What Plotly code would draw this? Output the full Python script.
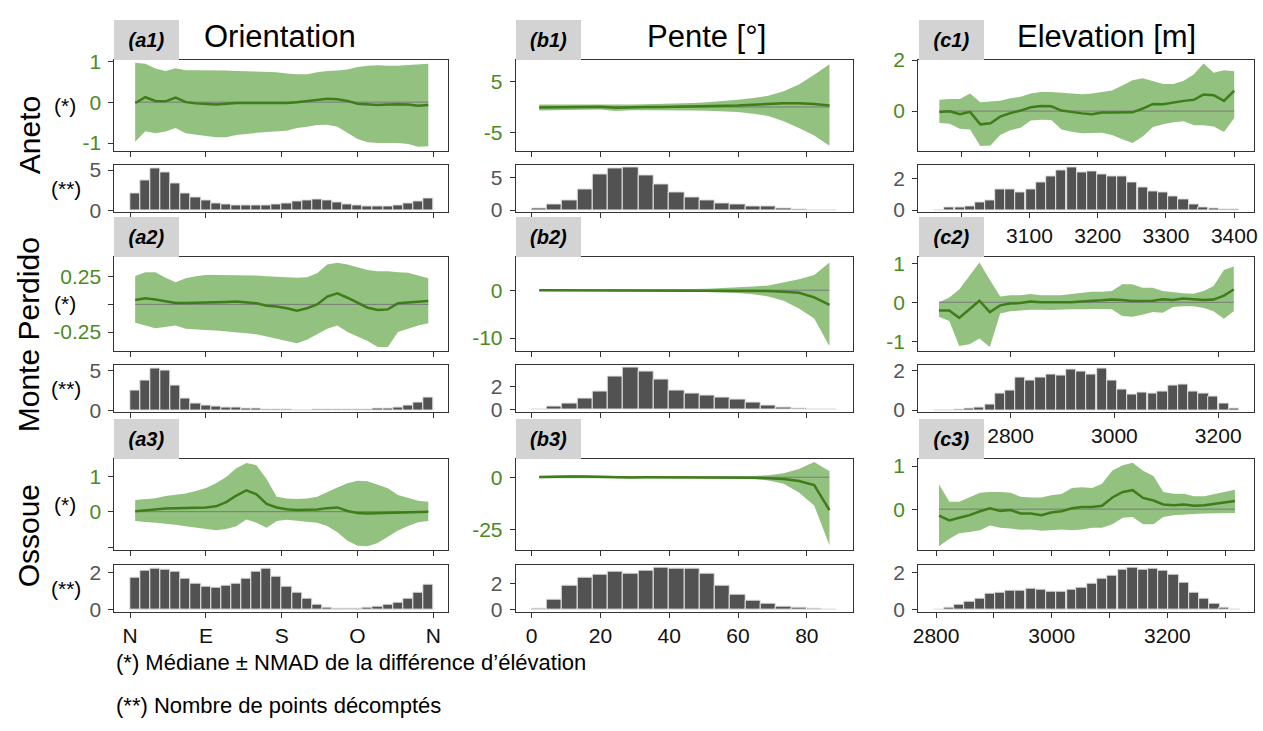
import plotly.graph_objects as go

W, H = 1263, 731

# ------------------------------------------------------------------ data
# Orientation (degrees, bin centres)
ORI_X = [6, 18, 30, 42, 54, 66, 78, 90, 102, 114, 126, 138, 150, 162, 174,
         186, 198, 210, 222, 234, 246, 258, 270, 282, 294, 306, 318, 330, 342, 354]
ORI_BIN = 12
ORI_TICKS = [0, 90, 180, 270, 360]
ORI_TICKTEXT = ["N", "E", "S", "O", "N"]

A1_MED = [-0.02, 0.12, 0.03, 0.02, 0.11, 0.0, -0.03, -0.05, -0.06, -0.04, -0.02, -0.02, -0.02, -0.02, -0.02,
          -0.02, 0.0, 0.03, 0.06, 0.08, 0.07, 0.03, -0.04, -0.06, -0.07, -0.06, -0.05, -0.06, -0.09, -0.07]
A1_HI = [0.96, 0.94, 0.82, 0.76, 0.83, 0.78, 0.78, 0.78, 0.77, 0.77, 0.76, 0.75, 0.74, 0.74, 0.73,
         0.70, 0.68, 0.68, 0.73, 0.76, 0.77, 0.80, 0.86, 0.89, 0.90, 0.89, 0.89, 0.91, 0.93, 0.94]
A1_LO = [-0.97, -0.71, -0.76, -0.72, -0.63, -0.76, -0.80, -0.83, -0.86, -0.86, -0.80, -0.78, -0.75, -0.73, -0.71,
         -0.70, -0.63, -0.60, -0.56, -0.55, -0.60, -0.75, -0.90, -0.98, -1.00, -1.00, -1.00, -1.02, -1.09, -1.08]
A1_CNT = [2.15, 3.66, 5.24, 4.67, 3.33, 2.15, 1.59, 1.18, 0.90, 0.70, 0.57, 0.57, 0.57, 0.65, 0.70,
          0.85, 1.06, 1.30, 1.42, 1.22, 0.93, 0.73, 0.61, 0.53, 0.53, 0.53, 0.65, 0.81, 1.10, 1.50]

A2_MED = [0.04, 0.056, 0.045, 0.03, 0.012, 0.012, 0.013, 0.016, 0.018, 0.022, 0.026, 0.02, 0.01, -0.012, -0.02,
          -0.035, -0.056, -0.035, 0.0, 0.07, 0.10, 0.06, 0.015, -0.03, -0.05, -0.045, 0.01, 0.015, 0.025, 0.03]
A2_HI = [0.256, 0.29, 0.29, 0.24, 0.20, 0.235, 0.255, 0.265, 0.265, 0.265, 0.26, 0.26, 0.26, 0.255, 0.25,
         0.245, 0.24, 0.245, 0.28, 0.36, 0.375, 0.36, 0.335, 0.31, 0.30, 0.30, 0.29, 0.285, 0.26, 0.235]
A2_LO = [-0.165, -0.19, -0.215, -0.20, -0.19, -0.22, -0.225, -0.23, -0.235, -0.24, -0.25, -0.26, -0.27, -0.29, -0.31,
         -0.33, -0.35, -0.32, -0.27, -0.22, -0.19, -0.25, -0.29, -0.33, -0.385, -0.385, -0.25, -0.22, -0.19, -0.17]
A2_CNT = [2.48, 3.70, 5.25, 4.96, 3.10, 1.45, 0.87, 0.54, 0.41, 0.33, 0.29, 0.20, 0.20, 0.12, 0.08,
          0.08, 0.0, 0.0, 0.04, 0.04, 0.06, 0.08, 0.10, 0.12, 0.16, 0.20, 0.33, 0.62, 0.95, 1.53]

A3_MED = [0.01, 0.04, 0.07, 0.09, 0.10, 0.10, 0.11, 0.12, 0.15, 0.27, 0.45, 0.60, 0.49, 0.22, 0.12,
          0.07, 0.05, 0.05, 0.06, 0.10, 0.12, 0.02, -0.04, -0.05, -0.04, -0.02, -0.01, -0.01, 0.0, 0.0]
A3_HI = [0.33, 0.36, 0.38, 0.44, 0.48, 0.51, 0.58, 0.67, 0.80, 0.98, 1.22, 1.37, 1.31, 0.92, 0.42,
         0.37, 0.36, 0.37, 0.42, 0.56, 0.68, 0.80, 0.87, 0.86, 0.76, 0.66, 0.47, 0.38, 0.31, 0.28]
A3_LO = [-0.26, -0.29, -0.31, -0.33, -0.37, -0.41, -0.45, -0.49, -0.52, -0.49, -0.41, -0.22, -0.31, -0.45, -0.26,
         -0.23, -0.25, -0.28, -0.31, -0.40, -0.58, -0.82, -0.96, -0.97, -0.88, -0.70, -0.53, -0.40, -0.30, -0.26]
A3_CNT = [1.72, 2.07, 2.22, 2.17, 2.02, 1.67, 1.38, 1.22, 1.20, 1.28, 1.42, 1.68, 2.05, 2.22, 1.78,
          1.22, 0.90, 0.60, 0.31, 0.12, 0.05, 0.05, 0.08, 0.10, 0.17, 0.27, 0.40, 0.62, 0.92, 1.34]

# Slope (degrees, bin centres)
SLOPE_X = [2.22, 6.66, 11.1, 15.54, 19.98, 24.42, 28.86, 33.3, 37.74, 42.18,
           46.62, 51.06, 55.5, 59.94, 64.38, 68.82, 73.26, 77.7, 82.14, 86.58]
SLOPE_BIN = 4.44
SLOPE_TICKS = [0, 20, 40, 60, 80]

B1_MED = [-0.1, -0.05, 0.0, 0.05, 0.05, -0.15, -0.05, 0.0, 0.0, 0.05,
          0.05, 0.1, 0.2, 0.3, 0.45, 0.6, 0.75, 0.75, 0.6, 0.3]
B1_HI = [0.5, 0.5, 0.5, 0.5, 0.5, 0.4, 0.5, 0.55, 0.6, 0.7,
         0.8, 0.95, 1.15, 1.4, 1.75, 2.2, 3.1, 4.4, 6.3, 8.4]
B1_LO = [-0.7, -0.65, -0.6, -0.55, -0.5, -0.8, -0.65, -0.65, -0.65, -0.65,
         -0.7, -0.75, -0.85, -1.0, -1.3, -1.75, -2.8, -4.1, -5.6, -7.6]
B1_CNT = [0.3, 0.8, 1.43, 3.16, 5.5, 6.43, 6.53, 5.3, 3.98, 2.65,
          1.9, 1.43, 1.07, 0.87, 0.6, 0.5, 0.25, 0.05, 0.0, 0.0]

B2_MED = [0.0, 0.0, 0.0, 0.0, 0.0, 0.0, 0.0, 0.0, 0.0, 0.0,
          0.0, -0.02, -0.05, -0.08, -0.1, -0.15, -0.3, -0.55, -1.5, -3.05]
B2_HI = [0.1, 0.1, 0.1, 0.1, 0.1, 0.12, 0.12, 0.14, 0.16, 0.2,
         0.25, 0.3, 0.4, 0.55, 0.75, 1.0, 1.6, 2.3, 3.2, 5.8]
B2_LO = [-0.1, -0.1, -0.1, -0.1, -0.1, -0.12, -0.12, -0.14, -0.16, -0.2,
         -0.25, -0.35, -0.45, -0.6, -0.85, -1.3, -2.2, -3.8, -5.9, -11.7]
B2_CNT = [0.03, 0.29, 0.57, 0.97, 1.63, 2.94, 3.66, 3.31, 2.6, 1.71,
          1.4, 1.26, 1.11, 0.91, 0.66, 0.37, 0.23, 0.11, 0.0, 0.0]

B3_MED = [0.1, 0.3, 0.35, 0.3, 0.1, -0.05, -0.1, -0.05, -0.05, -0.05,
          -0.05, -0.05, -0.05, -0.05, -0.2, -0.45, -0.8, -1.8, -3.7, -15.7]
B3_HI = [0.6, 0.8, 0.9, 0.8, 0.6, 0.4, 0.3, 0.3, 0.3, 0.3,
         0.3, 0.3, 0.3, 0.35, 0.6, 0.9, 1.9, 3.9, 7.3, 2.8]
B3_LO = [-0.5, -0.3, -0.3, -0.4, -0.5, -0.5, -0.6, -0.5, -0.5, -0.5,
         -0.5, -0.5, -0.5, -0.55, -0.9, -1.5, -3.1, -7.3, -13.5, -32.4]
B3_CNT = [0.12, 0.8, 1.88, 2.45, 2.68, 2.9, 2.8, 3.0, 3.25, 3.12,
          3.17, 2.75, 1.88, 1.15, 0.72, 0.5, 0.27, 0.15, 0.07, 0.02]

# Elevation (m, bin centres)
C1_X = [2968, 2983, 2998, 3013, 3028, 3043, 3057, 3072, 3087, 3102, 3117, 3132, 3147, 3162, 3177,
        3192, 3206, 3221, 3236, 3251, 3266, 3281, 3296, 3311, 3326, 3341, 3355, 3370, 3385, 3400]
C1_BIN = 14.9
C1_TICKS = [3000, 3100, 3200, 3300, 3400]
C1_TICKTEXT = ["", "3100", "3200", "3300", "3400"]   # 3000 is hidden behind the (c2) tag
C1_MED = [-0.04, -0.01, -0.12, -0.03, -0.52, -0.48, -0.22, -0.08, 0.02, 0.15, 0.2, 0.19, 0.02, -0.05, -0.09,
          -0.12, -0.06, -0.06, -0.06, -0.05, 0.1, 0.28, 0.27, 0.34, 0.4, 0.44, 0.65, 0.62, 0.4, 0.8]
C1_HI = [0.44, 0.47, 0.47, 0.69, 0.35, 0.37, 0.4, 0.5, 0.56, 0.69, 0.75, 0.75, 0.71, 0.69, 0.66,
         0.69, 0.75, 0.81, 1.0, 1.21, 1.29, 1.19, 1.06, 1.06, 1.19, 1.44, 1.87, 1.5, 1.6, 1.56]
C1_LO = [-0.47, -0.5, -0.69, -0.72, -1.37, -1.35, -0.94, -0.75, -0.65, -0.37, -0.34, -0.35, -0.72, -0.81, -0.87,
         -0.87, -0.85, -0.94, -1.1, -1.25, -1.0, -0.62, -0.52, -0.44, -0.4, -0.56, -0.56, -0.6, -0.82, -0.27]
C1_CNT = [0.0, 0.17, 0.17, 0.21, 0.5, 0.6, 1.3, 1.3, 1.1, 1.3, 1.75, 2.15, 2.5, 2.7, 2.4,
          2.45, 2.25, 2.1, 2.15, 1.75, 1.4, 1.2, 1.1, 0.85, 0.65, 0.35, 0.15, 0.08, 0.05, 0.02]

C2_X = [2662, 2682, 2701, 2721, 2740, 2760, 2780, 2799, 2819, 2838, 2858, 2878, 2897, 2917, 2936,
        2956, 2976, 2995, 3015, 3034, 3054, 3074, 3093, 3113, 3132, 3152, 3172, 3191, 3211, 3230]
C2_BIN = 19.6
C2_TICKS = [2800, 3000, 3200]
C2_MED = [-0.21, -0.21, -0.4, -0.18, 0.04, -0.25, -0.08, -0.03, -0.02, 0.02, 0.0, 0.0, 0.0, 0.0, 0.02,
          0.03, 0.05, 0.07, 0.06, 0.03, 0.03, 0.04, 0.08, 0.06, 0.1, 0.08, 0.06, 0.07, 0.17, 0.33]
C2_HI = [0.0, 0.12, 0.33, 0.67, 1.02, 0.58, 0.15, 0.18, 0.18, 0.21, 0.18, 0.18, 0.18, 0.21, 0.23,
         0.27, 0.27, 0.29, 0.46, 0.46, 0.37, 0.37, 0.29, 0.25, 0.23, 0.22, 0.29, 0.42, 0.83, 0.92]
C2_LO = [-0.37, -0.48, -1.12, -1.08, -0.93, -1.15, -0.29, -0.23, -0.21, -0.19, -0.19, -0.2, -0.19, -0.18, -0.18,
         -0.18, -0.17, -0.18, -0.35, -0.37, -0.32, -0.25, -0.27, -0.12, -0.1, -0.1, -0.15, -0.23, -0.42, -0.23]
C2_CNT = [0.0, 0.0, 0.05, 0.1, 0.15, 0.3, 0.85, 1.0, 1.65, 1.5, 1.65, 1.8, 1.75, 2.05, 1.95,
          1.8, 2.1, 1.5, 1.05, 0.8, 0.9, 0.85, 0.95, 1.25, 1.3, 0.95, 0.85, 0.7, 0.35, 0.1]

C3_X = [2805, 2823, 2840, 2858, 2876, 2893, 2911, 2929, 2946, 2964, 2982, 2999, 3017, 3035, 3052,
        3070, 3087, 3105, 3123, 3140, 3158, 3176, 3193, 3211, 3229, 3246, 3264, 3282, 3299, 3317]
C3_BIN = 17.65
C3_TICKS = [2800, 2900, 3000, 3100, 3200, 3300]
C3_TICKTEXT = ["2800", "", "3000", "", "3200", ""]
C3_MED = [-0.15, -0.26, -0.2, -0.14, -0.05, 0.02, -0.04, -0.02, -0.1, -0.1, -0.14, -0.08, -0.05, 0.02, 0.05,
          0.05, 0.08, 0.27, 0.4, 0.44, 0.26, 0.2, 0.11, 0.09, 0.11, 0.08, 0.09, 0.12, 0.15, 0.19]
C3_HI = [0.57, 0.17, 0.17, 0.27, 0.38, 0.4, 0.4, 0.38, 0.29, 0.27, 0.27, 0.32, 0.35, 0.49, 0.51,
         0.49, 0.59, 0.9, 1.02, 1.08, 0.89, 0.77, 0.4, 0.36, 0.36, 0.3, 0.3, 0.35, 0.4, 0.45]
C3_LO = [-0.86, -0.69, -0.56, -0.53, -0.49, -0.38, -0.43, -0.45, -0.48, -0.47, -0.5, -0.49, -0.47, -0.49, -0.47,
         -0.43, -0.43, -0.35, -0.2, -0.18, -0.35, -0.35, -0.18, -0.14, -0.13, -0.11, -0.1, -0.09, -0.09, -0.09]
C3_CNT = [0.0, 0.1, 0.3, 0.45, 0.6, 0.85, 0.95, 1.05, 1.05, 1.15, 1.1, 1.0, 1.0, 1.1, 1.2,
          1.4, 1.7, 1.85, 2.2, 2.3, 2.2, 2.25, 2.15, 1.9, 1.45, 0.95, 0.6, 0.35, 0.1, 0.0]

COL_TITLES = ["Orientation", "Pente [°]", "Elevation [m]"]
ROW_TITLES = ["Aneto", "Monte Perdido", "Ossoue"]
PANEL_TAGS = [["(a1)", "(b1)", "(c1)"], ["(a2)", "(b2)", "(c2)"], ["(a3)", "(b3)", "(c3)"]]
FOOT_1 = "(*) Médiane ± NMAD de la différence d’élévation"
FOOT_2 = "(**) Nombre de points décomptés"

# ------------------------------------------------------------------ style / geometry
FONT = "Liberation Sans, Arial, Helvetica, sans-serif"
BAND = "#93c17f"
MEDC = "#3f7c1a"
GREEN_TXT = "#4b8a1f"
BAR = "#525252"
AX = "#333333"

COLS_PX = [(110, 446), (514, 853), (919, 1257)]
ROWS_PX = [((50, 144), (159, 207)), ((253, 350), (364, 413)), ((461, 555), (570, 619))]

PANELS = [
    [dict(x=ORI_X, med=A1_MED, hi=A1_HI, lo=A1_LO, cnt=A1_CNT, bw=ORI_BIN,
          yr=[-1.19, 1.04], yt=[-1, 0, 1], ytt=["-1", "0", "1"], hyr=[-0.2, 5.57], hyt=[0, 5],
          xr=[-18.8, 377.6], xt=ORI_TICKS, xtt=None),
     dict(x=SLOPE_X, med=B1_MED, hi=B1_HI, lo=B1_LO, cnt=B1_CNT, bw=SLOPE_BIN,
          yr=[-8.6, 9.3], yt=[-5, 5], ytt=["-5", "5"], hyr=[-0.3, 6.84], hyt=[0, 5],
          xr=[-4.6, 93.3], xt=SLOPE_TICKS, xtt=None),
     dict(x=C1_X, med=C1_MED, hi=C1_HI, lo=C1_LO, cnt=C1_CNT, bw=C1_BIN,
          yr=[-1.56, 2.02], yt=[0, 2], ytt=["0", "2"], hyr=[-0.13, 2.82], hyt=[0, 2],
          xr=[2937, 3429], xt=C1_TICKS, xtt=C1_TICKTEXT)],
    [dict(x=ORI_X, med=A2_MED, hi=A2_HI, lo=A2_LO, cnt=A2_CNT, bw=ORI_BIN,
          yr=[-0.42, 0.43], yt=[-0.25, 0, 0.25], ytt=["-0.25", "", "0.25"], hyr=[-0.25, 5.74], hyt=[0, 5],
          xr=[-18.8, 377.6], xt=ORI_TICKS, xtt=None),
     dict(x=SLOPE_X, med=B2_MED, hi=B2_HI, lo=B2_LO, cnt=B2_CNT, bw=SLOPE_BIN,
          yr=[-12.7, 7.0], yt=[-10, 0], ytt=["-10", "0"], hyr=[-0.2, 3.94], hyt=[0, 2],
          xr=[-4.6, 93.3], xt=SLOPE_TICKS, xtt=None),
     dict(x=C2_X, med=C2_MED, hi=C2_HI, lo=C2_LO, cnt=C2_CNT, bw=C2_BIN,
          yr=[-1.25, 1.17], yt=[-1, 0, 1], ytt=["-1", "0", "1"], hyr=[-0.1, 2.28], hyt=[0, 2],
          xr=[2622, 3269], xt=C2_TICKS, xtt=[str(v) for v in C2_TICKS])],
    [dict(x=ORI_X, med=A3_MED, hi=A3_HI, lo=A3_LO, cnt=A3_CNT, bw=ORI_BIN,
          yr=[-1.08, 1.49], yt=[-1, 0, 1], ytt=["", "0", "1"], hyr=[-0.12, 2.41], hyt=[0, 2],
          xr=[-18.8, 377.6], xt=ORI_TICKS, xtt=ORI_TICKTEXT),
     dict(x=SLOPE_X, med=B3_MED, hi=B3_HI, lo=B3_LO, cnt=B3_CNT, bw=SLOPE_BIN,
          yr=[-34.7, 8.8], yt=[-25, 0], ytt=["-25", "0"], hyr=[-0.18, 3.45], hyt=[0, 2],
          xr=[-4.6, 93.3], xt=SLOPE_TICKS, xtt=[str(v) for v in SLOPE_TICKS]),
     dict(x=C3_X, med=C3_MED, hi=C3_HI, lo=C3_LO, cnt=C3_CNT, bw=C3_BIN,
          yr=[-0.95, 1.17], yt=[0, 1], ytt=["0", "1"], hyr=[-0.14, 2.45], hyt=[0, 2],
          xr=[2769, 3350], xt=C3_TICKS, xtt=C3_TICKTEXT)],
]


def px_x(v):
    return v / W


def px_y(v):
    return 1 - v / H


fig = go.Figure()
layout_axes = {}
n = 0


def axis_style(**kw):
    d = dict(showline=True, mirror=True, linecolor=AX, linewidth=1, ticks="outside",
             ticklen=5, tickwidth=1, tickcolor=AX, showgrid=False, zeroline=False,
             tickfont=dict(family=FONT, size=21, color="#111111"))
    d.update(kw)
    return d


for r in range(3):
    for c in range(3):
        p = PANELS[r][c]
        (m0, m1), (h0, h1) = ROWS_PX[r]
        x0, x1 = COLS_PX[c]
        # ---- main panel: median +/- NMAD
        n += 1
        xa, ya = ("x", "y") if n == 1 else (f"x{n}", f"y{n}")
        fig.add_trace(go.Scatter(x=p["x"] + p["x"][::-1], y=p["hi"] + p["lo"][::-1],
                                 fill="toself", fillcolor=BAND, mode="lines", line=dict(width=0),
                                 hoverinfo="skip", showlegend=False, xaxis=xa, yaxis=ya))
        fig.add_trace(go.Scatter(x=[p["x"][0], p["x"][-1]], y=[0, 0], mode="lines",
                                 line=dict(color="#7a7a7a", width=1), hoverinfo="skip",
                                 showlegend=False, xaxis=xa, yaxis=ya))
        fig.add_trace(go.Scatter(x=p["x"], y=p["med"], mode="lines",
                                 line=dict(color=MEDC, width=2.5), showlegend=False,
                                 xaxis=xa, yaxis=ya))
        kx = "xaxis" if n == 1 else f"xaxis{n}"
        ky = "yaxis" if n == 1 else f"yaxis{n}"
        layout_axes[kx] = axis_style(domain=[px_x(x0), px_x(x1)], range=p["xr"], anchor=ya,
                                     tickvals=p["xt"], showticklabels=False)
        layout_axes[ky] = axis_style(domain=[px_y(m1), px_y(m0)], range=p["yr"], anchor=xa,
                                     tickvals=p["yt"], ticktext=p["ytt"], ticklabelstandoff=3,
                                     tickfont=dict(family=FONT, size=21, color=GREEN_TXT))
        # ---- histogram panel: number of points
        n += 1
        xa, ya = f"x{n}", f"y{n}"
        fig.add_trace(go.Bar(x=p["x"], y=p["cnt"], width=p["bw"],
                             marker=dict(color=BAR, line=dict(color="#e4e4e4", width=1)),
                             showlegend=False, xaxis=xa, yaxis=ya))
        kx, ky = f"xaxis{n}", f"yaxis{n}"
        xkw = dict(domain=[px_x(x0), px_x(x1)], range=p["xr"], anchor=ya, tickvals=p["xt"])
        if p["xtt"] is None:
            xkw["showticklabels"] = False
        else:
            xkw["ticktext"] = p["xtt"]
        layout_axes[kx] = axis_style(**xkw)
        layout_axes[ky] = axis_style(domain=[px_y(h1), px_y(h0)], range=p["hyr"], anchor=xa,
                                     tickvals=p["hyt"], ticklabelstandoff=3,
                                     tickfont=dict(family=FONT, size=21, color="#555555"))

annotations = []
# column titles
TITLE_X = [277, 706, 1109]
for c, t in enumerate(COL_TITLES):
    annotations.append(dict(text=t, x=px_x(TITLE_X[c]), y=px_y(26), xref="paper", yref="paper",
                            showarrow=False, xanchor="center", yanchor="middle",
                            font=dict(family=FONT, size=31, color="#000000")))
# row titles and (*) / (**) markers
ROW_Y = [128, 333, 540]
for r, t in enumerate(ROW_TITLES):
    annotations.append(dict(text=t, x=px_x(24), y=px_y(ROW_Y[r]), xref="paper", yref="paper",
                            showarrow=False, xanchor="center", yanchor="middle", textangle=-90,
                            font=dict(family=FONT, size=30, color="#000000")))
    (m0, m1), (h0, h1) = ROWS_PX[r]
    annotations.append(dict(text="(*)", x=px_x(60), y=px_y((m0 + m1) / 2), xref="paper", yref="paper",
                            showarrow=False, xanchor="center", yanchor="middle",
                            font=dict(family=FONT, size=21, color="#000000")))
    annotations.append(dict(text="(**)", x=px_x(61), y=px_y((h0 + h1) / 2), xref="paper", yref="paper",
                            showarrow=False, xanchor="center", yanchor="middle",
                            font=dict(family=FONT, size=21, color="#000000")))
# panel tags
TAG_X = [142.5, 546.5, 952.5]
for r in range(3):
    top = ROWS_PX[r][0][0]
    for c in range(3):
        annotations.append(dict(text="<b><i>" + PANEL_TAGS[r][c] + "</i></b>",
                                x=px_x(TAG_X[c]), y=px_y(top - 20), xref="paper", yref="paper",
                                showarrow=False, xanchor="center", yanchor="middle",
                                width=65, height=40, bgcolor="#d3d3d3", borderpad=0, borderwidth=0,
                                font=dict(family=FONT, size=20, color="#000000")))
# footnotes
annotations.append(dict(text=FOOT_1, x=px_x(110), y=px_y(671), xref="paper", yref="paper",
                        showarrow=False, xanchor="left", yanchor="middle",
                        font=dict(family=FONT, size=22, color="#000000")))
annotations.append(dict(text=FOOT_2, x=px_x(110), y=px_y(715), xref="paper", yref="paper",
                        showarrow=False, xanchor="left", yanchor="middle",
                        font=dict(family=FONT, size=22, color="#000000")))

fig.update_layout(width=W, height=H, autosize=False, margin=dict(l=0, r=0, t=0, b=0),
                  paper_bgcolor="white", plot_bgcolor="white", bargap=0,
                  annotations=annotations, font=dict(family=FONT), **layout_axes)

fig.write_html("out.html", config={"displayModeBar": False},
               post_script="document.body.style.margin='0';document.body.style.overflow='hidden';")
